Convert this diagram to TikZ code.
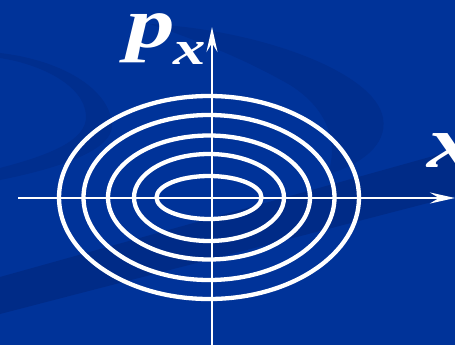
\documentclass[tikz,border=0pt]{standalone}
\usepackage{fontspec}
\setmainfont{Liberation Serif}
\usetikzlibrary{arrows.meta}
\definecolor{bgblue}{RGB}{0,51,153}
\definecolor{swoosh}{RGB}{0,46,142}
\definecolor{band}{RGB}{0,43,135}
\tikzset{
  ring/.style={draw=white, line width=4.3pt},
  axis/.style={draw=white, line width=2.7pt, -{Stealth[length=25pt,width=11pt,inset=9pt]}},
  lbl/.style={text=white, inner sep=0pt, anchor=base west, xscale=1.35}
}
\begin{document}
\begin{tikzpicture}[x=1pt,y=-1pt]
\useasboundingbox (0,0) rectangle (455,345);
\fill[bgblue] (0,0) rectangle (455,345);
% background swooshes
\fill[swoosh] (0,53) .. controls (60,60) and (110,88) .. (112,125)
  .. controls (113,150) and (60,168) .. (0,180)
  -- (0,168) .. controls (50,155) and (88,140) .. (86,115)
  .. controls (84,85) and (40,64) .. (0,58) -- cycle;
\fill[swoosh] (150,24) .. controls (260,30) and (375,72) .. (383,118)
  .. controls (388,145) and (360,165) .. (328,174)
  .. controls (338,145) and (330,110) .. (290,85)
  .. controls (250,62) and (210,45) .. (150,24) -- cycle;
\fill[band] (0,277) -- (455,150) -- (455,196) -- (0,314) -- cycle;
% coordinates
\coordinate (O) at (209,197.5);
\coordinate (xs) at (18,198);
\coordinate (xe) at (455,198);
\coordinate (ys) at (212,345);
\coordinate (ye) at (212,27);
% ellipses
\draw[ring] (O) ellipse [x radius=150pt, y radius=101.5pt];
\draw[ring] (O) ellipse [x radius=125.5pt, y radius=82.5pt];
\draw[ring] (O) ellipse [x radius=101pt, y radius=62pt];
\draw[ring] (O) ellipse [x radius=75pt, y radius=43.5pt];
\draw[ring] (O) ellipse [x radius=52.5pt, y radius=21.5pt];
% axes
\draw[axis] (xs) -- (xe);
\draw[axis] (ys) -- (ye);
% labels
\node[lbl, text height=34pt, text depth=16pt, font=\fontsize{72}{72}\selectfont\bfseries\itshape] (p) at (126,48) {p};
\node[lbl, text height=22pt, font=\fontsize{48}{48}\selectfont\bfseries\itshape] (px) at (173,65) {x};
\node[lbl, text height=34pt, font=\fontsize{74}{74}\selectfont\bfseries\itshape] (xl) at (427,167) {x};
\end{tikzpicture}
\end{document}
